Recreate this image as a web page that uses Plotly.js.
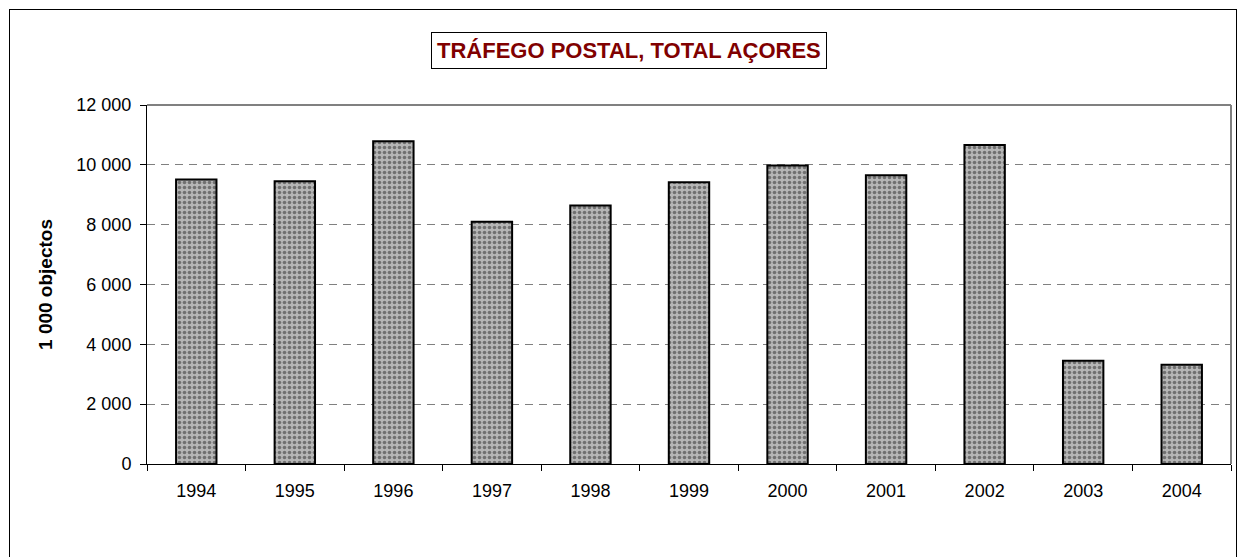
<!DOCTYPE html>
<html>
<head>
<meta charset="utf-8">
<script src="https://cdn.plot.ly/plotly-3.0.1.min.js"></script>
<style>
html,body{margin:0;padding:0;background:#fff;}
#wrap{position:relative;width:1240px;height:557px;overflow:hidden;}
#frame{position:absolute;left:9px;top:9px;width:1228px;height:560px;border:1px solid #000;box-sizing:border-box;pointer-events:none;z-index:5;}
#chart{position:absolute;left:0;top:0;width:1240px;height:557px;}
</style>
</head>
<body>
<div id="wrap"><div id="chart"></div><div id="frame"></div></div>
<script>
const years = ['1994','1995','1996','1997','1998','1999','2000','2001','2002','2003','2004'];
const objectos = [9510, 9450, 10790, 8100, 8640, 9420, 9980, 9650, 10660, 3455, 3320];
const yTickVals = [0, 2000, 4000, 6000, 8000, 10000, 12000];
const yTickText = ['0', '2 000', '4 000', '6 000', '8 000', '10 000', '12 000'];
const chartTitle = 'TRÁFEGO POSTAL, TOTAL AÇORES';
const yTitle = '1 000 objectos';

const trace = {
  type: 'bar',
  x: years,
  y: objectos,
  marker: {
    color: '#a9a9a9',
    line: {color: '#000', width: 2},
    pattern: {shape: '.', fgcolor: '#707070', bgcolor: '#b6b6b6', size: 5, solidity: 0.4}
  },
  hoverinfo: 'x+y'
};

const layout = {
  width: 1240, height: 557,
  margin: {l: 147, r: 9, t: 105, b: 93},
  paper_bgcolor: '#fff', plot_bgcolor: '#fff',
  showlegend: false,
  bargap: 0.59,
  font: {family: 'Liberation Sans, Arial, sans-serif', size: 18, color: '#000'},
  xaxis: {
    type: 'category',
    showline: true, linecolor: '#000', linewidth: 1,
    ticks: 'outside', tickson: 'boundaries', ticklen: 6, tickcolor: '#000', tickwidth: 1,
    showgrid: false,
    tickfont: {size: 18, color: '#000'},
    ticklabelstandoff: 10,
    fixedrange: true
  },
  yaxis: {
    range: [0, 12000],
    tickvals: yTickVals, ticktext: yTickText,
    showline: true, linecolor: '#000', linewidth: 1,
    ticks: 'outside', ticklen: 6, tickcolor: '#000', tickwidth: 1,
    showgrid: true, gridcolor: '#808080', gridwidth: 1, griddash: '8px,6px',
    zeroline: false,
    tickfont: {size: 18, color: '#000'},
    ticklabelstandoff: 5,
    title: {text: yTitle, font: {size: 19, color: '#000', weight: 'bold'}, standoff: 18},
    fixedrange: true
  },
  shapes: [
    {type: 'line', xref: 'paper', yref: 'paper', x0: 0, x1: 1, y0: 1, y1: 1, line: {color: '#808080', width: 2}},
    {type: 'line', xref: 'paper', yref: 'paper', x0: 1, x1: 1, y0: 0, y1: 1, line: {color: '#808080', width: 2}}
  ],
  annotations: [{
    text: '<b>' + chartTitle + '</b>',
    xref: 'paper', yref: 'paper', x: 0.4446, y: 1.152,
    xanchor: 'center', yanchor: 'middle', showarrow: false,
    font: {size: 22, color: '#800000', family: 'Liberation Sans, Arial, sans-serif'},
    bordercolor: '#000', borderwidth: 1, borderpad: 5, bgcolor: '#fff'
  }]
};

Plotly.newPlot('chart', [trace], layout, {displayModeBar: false, staticPlot: true});
</script>
</body>
</html>
